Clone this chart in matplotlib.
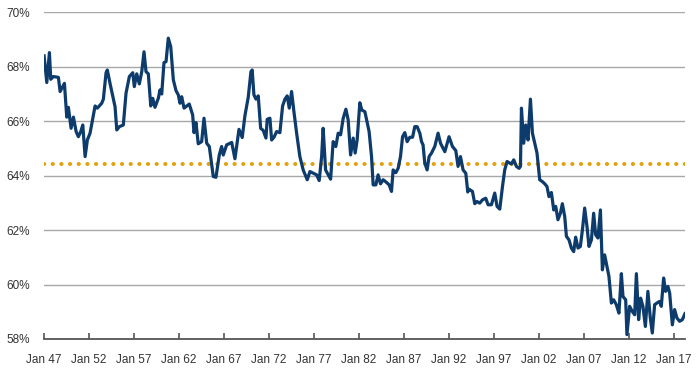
import matplotlib
matplotlib.use('Agg')
import matplotlib.pyplot as plt

# readings, decimal years and percent
years = [1947.00, 1947.30, 1947.59, 1947.74, 1948.03, 1948.59, 1948.78, 1949.26, 1949.52, 1949.70,
         1950.00, 1950.26, 1950.56, 1950.81, 1951.08, 1951.30, 1951.56, 1951.81, 1952.11, 1952.67,
         1952.92, 1953.41, 1953.59, 1953.89, 1954.03, 1954.33, 1954.89, 1955.08, 1955.37, 1955.81,
         1956.11, 1956.48, 1956.86, 1957.03, 1957.30, 1957.59, 1957.86, 1958.11, 1958.33, 1958.59,
         1958.86, 1959.08, 1959.33, 1959.70, 1959.89, 1960.08, 1960.33, 1960.56, 1960.81, 1961.08,
         1961.37, 1961.67, 1961.92, 1962.11, 1962.30, 1962.56, 1962.86, 1963.14, 1963.52, 1963.67,
         1963.89, 1964.14, 1964.52, 1964.78, 1965.08, 1965.37, 1965.81, 1966.11, 1966.48, 1966.74,
         1966.92, 1967.30, 1967.86, 1968.22, 1968.67, 1969.03, 1969.33, 1969.70, 1970.00, 1970.14,
         1970.33, 1970.56, 1970.81, 1971.08, 1971.37, 1971.67, 1971.81, 1972.11, 1972.30, 1972.56,
         1972.86, 1973.22, 1973.52, 1973.78, 1974.03, 1974.26, 1974.52, 1974.78, 1975.08, 1975.44,
         1975.81, 1976.26, 1976.56, 1976.92, 1977.30, 1977.59, 1977.86, 1978.03, 1978.30, 1978.59,
         1978.86, 1979.14, 1979.44, 1979.70, 1979.97, 1980.26, 1980.56, 1980.81, 1981.08, 1981.37,
         1981.59, 1981.81, 1982.11, 1982.33, 1982.67, 1983.14, 1983.41, 1983.59, 1983.89, 1984.14,
         1984.41, 1984.70, 1985.08, 1985.37, 1985.63, 1985.81, 1986.11, 1986.37, 1986.63, 1986.86,
         1987.11, 1987.37, 1987.67, 1987.97, 1988.22, 1988.48, 1988.78, 1988.97, 1989.14, 1989.33,
         1989.59, 1989.81, 1990.08, 1990.44, 1990.81, 1991.08, 1991.56, 1992.03, 1992.41, 1992.78,
         1993.03, 1993.30, 1993.59, 1993.89, 1994.11, 1994.26, 1994.63, 1994.89, 1995.14, 1995.44,
         1995.74, 1996.11, 1996.37, 1996.74, 1997.11, 1997.37, 1997.67, 1997.97, 1998.22, 1998.48,
         1998.78, 1998.97, 1999.22, 1999.52, 1999.81, 1999.97, 2000.08, 2000.33, 2000.56, 2000.81,
         2001.08, 2001.30, 2001.56, 2001.81, 2002.11, 2002.41, 2002.67, 2002.92, 2003.14, 2003.41,
         2003.67, 2003.89, 2004.14, 2004.41, 2004.63, 2004.89, 2005.08, 2005.37, 2005.63, 2005.89,
         2006.11, 2006.37, 2006.63, 2006.86, 2007.11, 2007.37, 2007.59, 2007.86, 2008.11, 2008.33,
         2008.59, 2008.86, 2009.08, 2009.33, 2009.59, 2009.81, 2010.08, 2010.33, 2010.63, 2010.92,
         2011.19, 2011.37, 2011.67, 2011.81, 2012.11, 2012.41, 2012.67, 2012.86, 2013.11, 2013.33,
         2013.59, 2013.86, 2014.14, 2014.41, 2014.63, 2014.89, 2015.14, 2015.44, 2015.63, 2015.89,
         2016.11, 2016.37, 2016.56, 2016.86, 2017.11, 2017.37, 2017.67, 2017.97, 2018.26]

share = [68.40, 67.42, 68.52, 67.54, 67.64, 67.61, 67.09, 67.39, 66.15, 66.51,
         65.74, 66.15, 65.62, 65.43, 65.62, 65.86, 64.70, 65.31, 65.56, 66.56,
         66.48, 66.66, 66.81, 67.78, 67.88, 67.39, 66.53, 65.68, 65.80, 65.86,
         67.03, 67.64, 67.78, 67.27, 67.74, 67.37, 67.82, 68.55, 67.82, 67.74,
         66.56, 66.84, 66.51, 66.84, 67.15, 67.00, 68.15, 68.19, 69.05, 68.74,
         67.52, 67.12, 66.97, 66.66, 66.90, 66.48, 66.56, 66.63, 66.23, 65.58,
         65.95, 65.17, 65.25, 66.11, 65.19, 65.07, 63.97, 63.94, 64.76, 65.07,
         64.76, 65.13, 65.22, 64.62, 65.70, 65.40, 66.20, 66.88, 67.82, 67.88,
         66.97, 66.81, 66.93, 65.74, 65.66, 65.38, 66.07, 66.11, 65.31, 65.41,
         65.62, 65.58, 66.56, 66.81, 66.93, 66.48, 67.09, 66.35, 65.56, 64.70,
         64.21, 63.85, 64.15, 64.09, 64.03, 63.82, 64.70, 65.74, 64.21, 64.03,
         63.87, 65.25, 65.07, 65.56, 65.50, 66.11, 66.44, 66.05, 64.76, 65.38,
         64.83, 65.31, 66.68, 66.41, 66.35, 65.62, 64.70, 63.66, 63.66, 64.03,
         63.70, 63.85, 63.75, 63.66, 63.42, 64.21, 64.11, 64.27, 64.70, 65.43,
         65.58, 65.25, 65.41, 65.41, 65.80, 65.80, 65.56, 65.25, 65.13, 64.46,
         64.21, 64.70, 64.83, 65.07, 65.56, 65.19, 64.88, 65.43, 65.07, 64.92,
         64.34, 64.70, 64.21, 64.09, 63.40, 63.50, 63.42, 62.97, 63.05, 62.99,
         63.11, 63.17, 62.93, 62.93, 63.36, 62.87, 62.77, 63.60, 64.21, 64.52,
         64.46, 64.43, 64.58, 64.34, 64.27, 64.34, 66.48, 65.19, 65.86, 65.31,
         66.81, 65.56, 65.19, 64.83, 63.85, 63.78, 63.70, 63.60, 63.23, 63.38,
         62.74, 62.87, 62.38, 62.62, 62.97, 62.50, 61.77, 61.64, 61.34, 61.21,
         61.74, 61.34, 61.40, 62.01, 62.81, 62.13, 61.40, 61.64, 62.62, 61.83,
         61.71, 62.74, 60.54, 61.09, 60.66, 60.30, 59.32, 59.44, 59.26, 58.95,
         60.40, 59.56, 59.44, 58.16, 59.20, 59.01, 58.89, 60.40, 58.71, 59.50,
         59.20, 58.46, 59.75, 58.77, 58.22, 59.26, 59.32, 59.38, 59.20, 60.24,
         59.75, 59.93, 59.69, 58.52, 59.08, 58.77, 58.65, 58.71, 58.93]

# long run average level (dotted line)
avg_level = 64.44

tick_years = [1947, 1952, 1957, 1962, 1967, 1972, 1977, 1982, 1987, 1992, 1997, 2002, 2007, 2012, 2017]
tick_labels = ['Jan 47', 'Jan 52', 'Jan 57', 'Jan 62', 'Jan 67', 'Jan 72', 'Jan 77', 'Jan 82',
               'Jan 87', 'Jan 92', 'Jan 97', 'Jan 02', 'Jan 07', 'Jan 12', 'Jan 17']
y_ticks = [58, 60, 62, 64, 66, 68, 70]

plt.rcParams['font.family'] = ['Liberation Sans', 'DejaVu Sans']

fig = plt.figure(figsize=(7, 3.74), dpi=100)
ax = fig.add_axes([0.063, 0.0936, 0.916, 0.8735])

# horizontal grid
for v in y_ticks[1:]:
    ax.axhline(v, color='#a8a8a8', lw=1.0, zorder=1)

ax.axhline(avg_level, color='#e3a10b', lw=2.9, linestyle=(0, (0.05, 2.1)),
           dash_capstyle='round', zorder=2)
ax.plot(years, share, color='#0d3b6b', lw=2.3, solid_joinstyle='round', zorder=3)

ax.set_xlim(1947, 2018.3)
ax.set_ylim(58, 70)
ax.set_xticks(tick_years)
ax.set_xticklabels(tick_labels)
ax.set_yticks(y_ticks)
ax.set_yticklabels(['%d%%' % v for v in y_ticks])

for s in ['top', 'right', 'left']:
    ax.spines[s].set_visible(False)
ax.spines['bottom'].set_color('#555555')
ax.spines['bottom'].set_linewidth(1.3)

ax.tick_params(axis='x', direction='in', length=4, width=1.2, color='#555555',
               pad=10.5, labelsize=8.5, labelcolor='#333333')
ax.tick_params(axis='y', length=0, pad=10, labelsize=8.5, labelcolor='#333333')

plt.savefig('out.png', dpi=100)
